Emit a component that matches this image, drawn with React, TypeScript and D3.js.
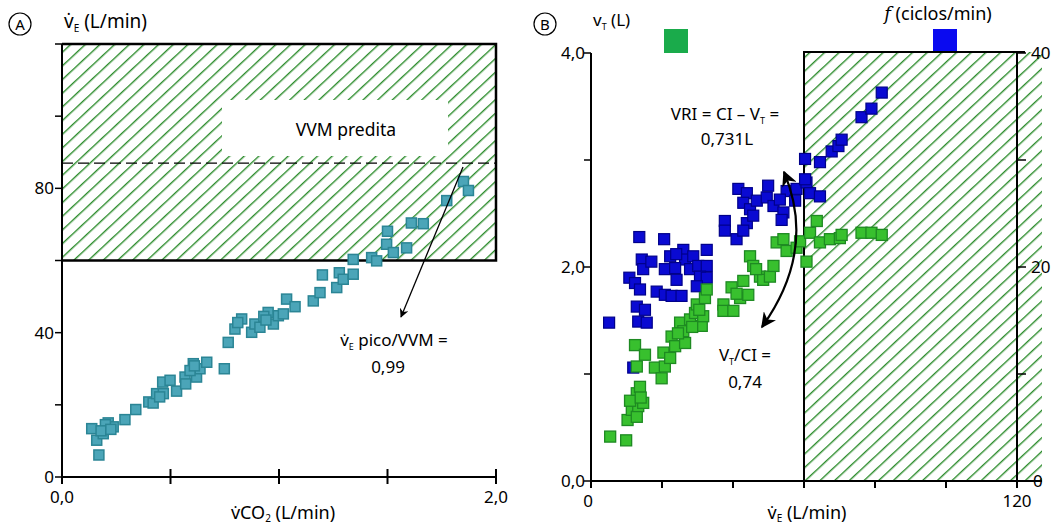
import React from "react";
import * as d3 from "d3";

// Panel A: VE vs VCO2
const aVco2 = [0.137, 0.16, 0.17, 0.19, 0.213, 0.236, 0.2, 0.18, 0.225, 0.29, 0.34, 0.4, 0.42, 0.436, 0.464, 0.467, 0.498, 0.528,
  0.567, 0.57, 0.605, 0.62, 0.636, 0.667, 0.45, 0.59, 0.61, 0.748, 0.766, 0.797, 0.828, 0.874, 0.889, 0.912, 0.95, 0.974, 0.997,
  1.02, 1.035, 1.074, 0.81, 0.93, 0.94, 1.158, 1.189, 1.2, 1.266, 1.278, 1.296, 1.342, 1.342, 1.427, 1.45, 1.496, 1.5, 1.527,
  1.588, 1.61, 1.665, 1.773, 1.85, 1.873];
const aVe = [13.4, 10.2, 6.1, 12, 15, 13.9, 14.5, 12.8, 13.2, 15.9, 18.7, 20.8, 20.5, 23.1, 26.3, 23.1, 26.8, 23.8,
  27.7, 25.8, 31.4, 27.7, 30, 31.8, 22.2, 29.5, 30.8, 30, 37.3, 41, 43.8, 40.1, 42.4, 41.5, 45.6, 42.4, 44.7,
  45.2, 49.3, 47.2, 42.8, 44.5, 43.5, 48.8, 51.1, 56, 52.5, 56.6, 54.8, 56.2, 60.3, 60.8, 59.9, 64.5, 68.1, 62.2,
  63.5, 70.4, 70.2, 76.6, 81.9, 79.4];

// Panel B: VT (green, left axis) and f (blue, right axis) vs VE
const gVe = [5.4, 9.9, 10.3, 11.5, 12.9, 13.3, 14.7, 12.9, 13.8, 12.4, 12.9, 15.2, 18.0, 19.9, 20.8, 20.4, 22.3, 22.7, 23.7,
  25.1, 26.0, 26.5, 27.9, 29.3, 29.8, 31.2, 31.6, 32.1, 32.6, 37.3, 37.3, 40.1, 39.6, 42.0, 42.9, 44.3, 44.8, 45.7, 47.6,
  48.5, 50.4, 51.4, 52.3, 54.2, 55.1, 57.9, 58.9, 60.7, 61.7, 63.6, 64.5, 67.3, 70.1, 70.6, 76.2, 79.0, 81.9, 11.0, 14.0,
  24.5, 28.5, 30.5, 41.0, 46.5];
const gVt = [0.415, 0.38, 0.57, 0.665, 0.6, 0.7, 0.73, 0.82, 0.88, 1.27, 1.07, 1.18, 1.06, 0.96, 1.07, 1.2, 1.15, 1.35, 1.26,
  1.48, 1.4, 1.29, 1.51, 1.57, 1.65, 1.45, 1.54, 1.71, 1.79, 1.65, 1.59, 1.59, 1.81, 1.71, 1.87, 1.74, 2.1, 2.01, 1.91,
  1.88, 1.91, 2.01, 2.23, 2.26, 2.15, 2.18, 2.24, 2.05, 2.32, 2.43, 2.23, 2.26, 2.27, 2.3, 2.32, 2.32, 2.3, 0.75, 0.78,
  1.38, 1.44, 1.6, 1.75, 1.98];
const bVe = [5.1, 13.6, 20.6, 10.8, 12.4, 14.3, 14.7, 13.8, 12.9, 13.3, 15.7, 15.2, 18.5, 20.8, 22.7, 25.5, 20.8, 22.3, 26.0,
  26.5, 23.7, 27.9, 28.8, 30.2, 32.6, 32.6, 30.7, 32.6, 29.8, 24.1, 37.7, 37.7, 41.0, 41.5, 43.9, 42.9, 44.8, 43.9, 45.7,
  42.9, 46.7, 49.9, 49.5, 51.4, 54.2, 53.7, 55.1, 57.9, 60.7, 61.7, 64.5, 53.2, 57.5, 60.3, 60.3, 64.5, 67.8, 69.7, 70.6,
  76.2, 79.0, 81.9, 11.9, 17.0, 24.0];
const bF = [14.8, 22.8, 22.6, 19.0, 18.5, 20.7, 19.8, 17.9, 16.3, 14.9, 14.8, 16.0, 17.7, 17.4, 17.3, 17.3, 19.8, 21.0, 21.6,
  20.7, 19.9, 19.8, 21.0, 20.1, 21.6, 20.1, 19.1, 19.0, 18.2, 18.8, 24.3, 23.4, 22.6, 27.3, 26.9, 26.0, 25.4, 24.1, 24.8,
  23.4, 26.2, 27.6, 26.5, 25.7, 25.1, 24.4, 27.1, 27.3, 27.9, 26.9, 26.6, 26.3, 26.2, 30.1, 28.2, 29.8, 30.8, 31.3, 31.9,
  34.0, 34.8, 36.3, 10.6, 20.5, 21.2];

const aXTicks = [0, 0.5, 1, 1.5, 2];
const aYTicks = [0, 20, 40, 60, 80, 100, 120];
const aYLabels = [0, 40, 80];
const bXTicks = [0, 20, 40, 60, 80, 100, 120];
const bYTicks = [0, 1, 2, 3, 4];
const bYLabels = [0, 2, 4];
const bFTicks = [0, 10, 20, 30, 40];
const bFLabels = [0, 20, 40];

const FONT = "'Noto Sans', 'Open Sans', sans-serif";
const fmt = (v: number) => d3.format(".1f")(v).replace(".", ",");

export default function App() {
  const xA = d3.scaleLinear().domain([0, 2]).range([62, 496]);
  const yA = d3.scaleLinear().domain([0, 120]).range([477, 44]);
  const xB = d3.scaleLinear().domain([0, 120]).range([591, 1017]);
  const yB = d3.scaleLinear().domain([0, 4]).range([481, 53]);
  const fB = d3.scaleLinear().domain([0, 40]).range([481, 53]);

  const sA = 10;
  const sB = 11;

  const curve = d3.path();
  curve.moveTo(784, 172);
  curve.quadraticCurveTo(817, 250, 762, 327);

  return (
    <svg width={1059} height={526} style={{ position: "absolute", left: 0, top: 0, background: "#fff" }}
      fontFamily={FONT}>
      <defs>
        <pattern id="hatch" width={10} height={10} patternUnits="userSpaceOnUse" patternTransform="rotate(47)">
          <line x1={0} y1={0} x2={0} y2={10} stroke="#2c8c2c" strokeWidth={2.8} />
        </pattern>
        <marker id="head" viewBox="0 0 10 10" refX={9} refY={5} markerWidth={7} markerHeight={7} orient="auto-start-reverse">
          <path d="M0,0 L10,5 L0,10 L3,5 Z" fill="#000" />
        </marker>
      </defs>

      {/* Panel A */}
      <circle cx={20} cy={24} r={11} fill="none" stroke="#000" strokeWidth={1.2} />
      <text x={20} y={29.5} textAnchor="middle" fontSize={15}>A</text>
      <text x={64} y={28} fontSize={19}>{"v\u0307"}<tspan fontSize={10} dy={4}>E</tspan><tspan dy={-4}> (L/min)</tspan></text>

      <rect x={xA(0)} y={yA(120)} width={xA(2) - xA(0)} height={yA(60) - yA(120)} fill="url(#hatch)" />
      <rect x={222} y={100} width={226} height={56} fill="#fff" />
      <text x={346} y={136} textAnchor="middle" fontSize={17.5}>VVM predita</text>
      <line x1={xA(0)} x2={xA(2)} y1={yA(87)} y2={yA(87)} stroke="#000" strokeWidth={1.2} strokeDasharray="11,5" />
      <path d={`M${xA(0)},${yA(120)}H${xA(2)}V${yA(60)}H${xA(0)}`} fill="none" stroke="#000" strokeWidth={2.5} />

      {aVco2.map((v, i) => (
        <rect key={"a" + i} x={xA(v) - sA / 2} y={yA(aVe[i]) - sA / 2} width={sA} height={sA}
          fill="#4ba5b8" stroke="#2b8595" strokeWidth={1.5} />
      ))}

      <line x1={xA(0)} x2={xA(0)} y1={yA(120)} y2={yA(0)} stroke="#000" strokeWidth={2} />
      <line x1={xA(0)} x2={xA(2)} y1={yA(0)} y2={yA(0)} stroke="#000" strokeWidth={2} />
      {aYTicks.map(t => (
        <line key={"ayt" + t} x1={xA(0) - 7} x2={xA(0)} y1={yA(t)} y2={yA(t)} stroke="#000" strokeWidth={1.5} />
      ))}
      {aYLabels.map(t => (
        <text key={"ayl" + t} x={xA(0) - 8} y={yA(t) + 6} textAnchor="end" fontSize={17}>{t}</text>
      ))}
      {aXTicks.map(t => (
        <line key={"axt" + t} x1={xA(t)} x2={xA(t)} y1={yA(0) - 8} y2={yA(0) + 7} stroke="#000" strokeWidth={2} />
      ))}
      <text x={xA(0)} y={503} textAnchor="middle" fontSize={17}>{fmt(0)}</text>
      <text x={xA(2)} y={503} textAnchor="middle" fontSize={17}>{fmt(2)}</text>
      <text x={283} y={519} textAnchor="middle" fontSize={18}>{"v\u0307CO"}<tspan fontSize={10} dy={3}>2</tspan><tspan dy={-3}> (L/min)</tspan></text>

      <line x1={463} y1={167} x2={401} y2={317} stroke="#000" strokeWidth={1.3} markerEnd="url(#head)" />
      <text x={394} y={346} textAnchor="middle" fontSize={17}>{"v\u0307"}<tspan fontSize={9} dy={4}>E</tspan><tspan dy={-4}> pico/VVM =</tspan></text>
      <text x={388} y={373} textAnchor="middle" fontSize={17}>0,99</text>

      {/* Panel B */}
      <circle cx={545} cy={24} r={11} fill="none" stroke="#000" strokeWidth={1.2} />
      <text x={545} y={29.5} textAnchor="middle" fontSize={15}>B</text>
      <text x={593} y={26} fontSize={17}>v<tspan fontSize={9} dy={4}>T</tspan><tspan dy={-4}> (L)</tspan></text>
      <rect x={664} y={29} width={24} height={24} fill="#1aab4b" />
      <text x={938} y={20} textAnchor="middle" fontSize={18}><tspan fontStyle="italic" fontFamily="'DejaVu Serif', serif">f</tspan> (ciclos/min)</text>
      <rect x={933} y={29} width={24} height={24} fill="#0a0af0" />

      <rect x={xB(60)} y={52} width={xB(120) + 25 - xB(60)} height={yB(0) - 52} fill="url(#hatch)" />
      <path d={`M${xB(60)},${yB(0)}V52H${xB(120) + 8}`} fill="none" stroke="#000" strokeWidth={2} />
      <line x1={xB(120)} x2={xB(120)} y1={52} y2={yB(0)} stroke="#000" strokeWidth={2} />
      {bFTicks.map(t => (
        <line key={"bft" + t} x1={xB(120)} x2={xB(120) + 9} y1={fB(t)} y2={fB(t)} stroke="#000" strokeWidth={1.5} />
      ))}
      {bFLabels.map(t => (
        <text key={"bfl" + t} x={t === 0 ? 1033 : 1031} y={fB(t) + 6} fontSize={17}>{t}</text>
      ))}

      {bVe.map((v, i) => (
        <rect key={"b" + i} x={xB(v) - sB / 2} y={fB(bF[i]) - sB / 2} width={sB} height={sB}
          fill="#0a0ad2" stroke="#00008a" strokeWidth={1.2} />
      ))}
      {gVe.map((v, i) => (
        <rect key={"g" + i} x={xB(v) - sB / 2} y={yB(gVt[i]) - sB / 2} width={sB} height={sB}
          fill="#38c02e" stroke="#1e8a22" strokeWidth={1.3} />
      ))}

      <line x1={xB(0)} x2={xB(0)} y1={yB(4)} y2={yB(0)} stroke="#000" strokeWidth={2} />
      <line x1={xB(0)} x2={xB(120) + 25} y1={yB(0)} y2={yB(0)} stroke="#000" strokeWidth={2} />
      {bYTicks.map(t => (
        <line key={"byt" + t} x1={xB(0) - 7} x2={xB(0)} y1={yB(t)} y2={yB(t)} stroke="#000" strokeWidth={1.5} />
      ))}
      {bYLabels.map(t => (
        <text key={"byl" + t} x={xB(0) - 6} y={yB(t) + 6} textAnchor="end" fontSize={17}>{fmt(t)}</text>
      ))}
      {bXTicks.map(t => (
        <line key={"bxt" + t} x1={xB(t)} x2={xB(t)} y1={yB(0)} y2={yB(0) + 7} stroke="#000" strokeWidth={2} />
      ))}
      <text x={xB(0) - 3} y={507} textAnchor="middle" fontSize={17}>0</text>
      <text x={xB(120)} y={507} textAnchor="middle" fontSize={17}>120</text>
      <text x={807} y={519} textAnchor="middle" fontSize={18}>{"v\u0307"}<tspan fontSize={10} dy={3}>E</tspan><tspan dy={-3}> (L/min)</tspan></text>

      <path d={curve.toString()} fill="none" stroke="#000" strokeWidth={2.2}
        markerStart="url(#head)" markerEnd="url(#head)" />
      <text x={725} y={120} textAnchor="middle" fontSize={17}>VRI = CI – V<tspan fontSize={9} dy={4}>T</tspan><tspan dy={-4}> =</tspan></text>
      <text x={727} y={145} textAnchor="middle" fontSize={17}>0,731L</text>
      <text x={745} y={361} textAnchor="middle" fontSize={17}>V<tspan fontSize={9} dy={4}>T</tspan><tspan dy={-4}>/CI =</tspan></text>
      <text x={745} y={388} textAnchor="middle" fontSize={17}>0,74</text>
    </svg>
  );
}
